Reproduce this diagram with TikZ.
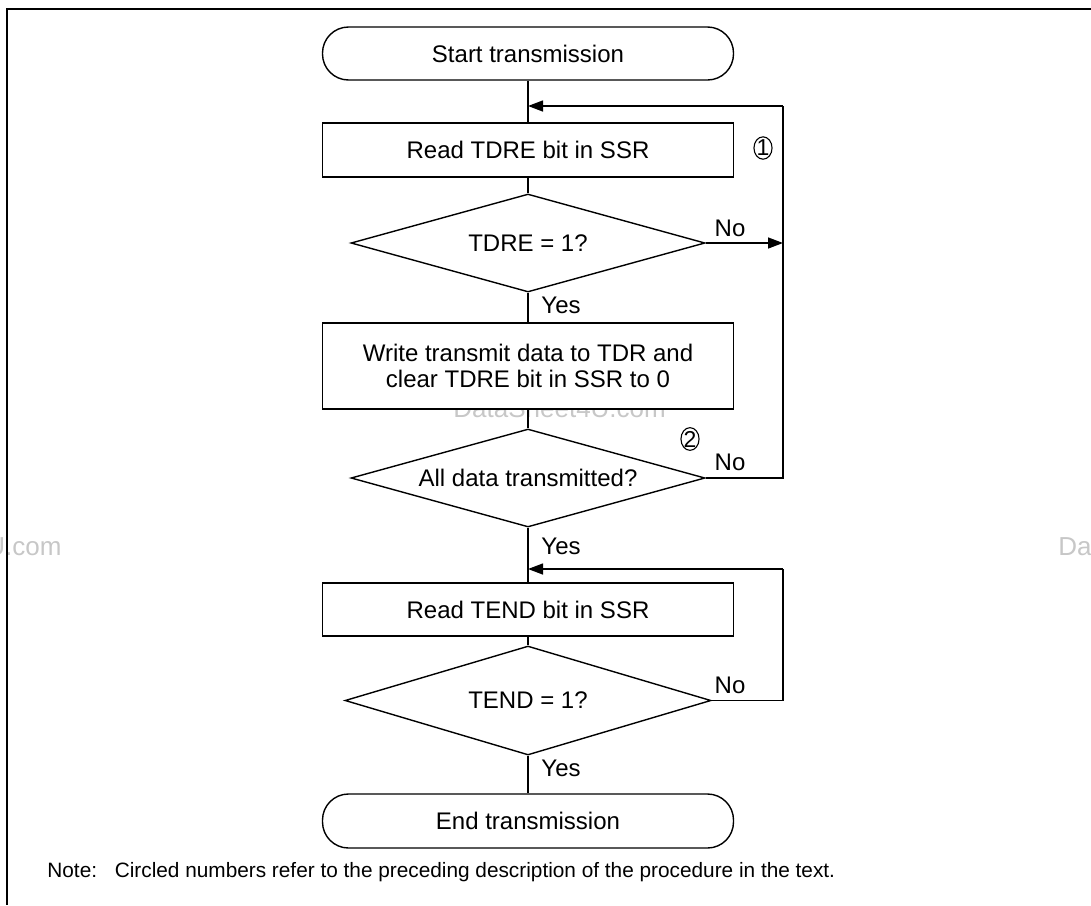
\documentclass[tikz,border=0pt]{standalone}
\usepackage{fontspec}
\setmainfont{Liberation Sans}
\usetikzlibrary{shapes.geometric,arrows.meta}
\begin{document}
\begin{tikzpicture}[x=0.5pt,y=-0.5pt,
  every node/.style={font=\fontsize{12}{13}\selectfont},
  term/.style={draw,line width=0.7pt,rounded corners=13pt,minimum width=205.5pt,minimum height=26.5pt,inner sep=0pt,fill=white},
  proc/.style={draw,line width=0.7pt,minimum width=205.5pt,minimum height=27pt,inner sep=0pt,fill=white,align=center},
  dec/.style={draw,line width=0.7pt,diamond,aspect=3.6,inner sep=0pt,minimum width=177pt,minimum height=49pt,fill=white},
  conn/.style={line width=0.7pt},
  arr/.style={conn,-{Triangle[length=7.5pt,width=5.5pt]}},
  lbl/.style={inner sep=0pt},
  num/.style={draw,ellipse,inner sep=0pt,minimum width=9pt,minimum height=10.5pt,line width=0.55pt,font=\fontsize{11.5}{12}\selectfont},
  wm/.style={text=black!22,font=\fontsize{13}{14}\selectfont,inner sep=0pt}
]
\useasboundingbox (0,0) rectangle (1091,905);
\clip (0,0) rectangle (1091,905);

% watermarks
\node[wm,anchor=base west] (wm1) at (453,417) {DataSheet4U.com};
\node[wm,anchor=base east] (wm2) at (62,555) {www.DataSheet4U.com};
\node[wm,anchor=base west] (wm3) at (1058,555) {DataSheet4U.com};

% frame
\draw[conn] (1091,9) -- (7,9) -- (7,905);

% nodes
\node[term] (start) at (528,53.5) {Start transmission};
\node[proc] (rd1) at (528,150) {Read TDRE bit in SSR};
\node[dec] (d1) at (528,243) {TDRE = 1?};
\node[proc,minimum height=43pt] (wr) at (528,366) {Write transmit data to TDR and\\clear TDRE bit in SSR to 0};
\node[dec] (d2) at (528,478) {All data transmitted?};
\node[proc,minimum height=26.5pt] (rd2) at (528,609.5) {Read TEND bit in SSR};
\node[dec,minimum width=183pt,minimum height=54.5pt] (d3) at (528,700.5) {TEND = 1?};
\node[term,minimum height=27pt] (stop) at (528,821) {End transmission};

\coordinate (rx) at (783,0);
\coordinate (j1) at (528,106);
\coordinate (j2) at (528,569);

% connectors
\draw[conn] (start) -- (rd1);
\draw[arr] (rx |- j1) -- (j1);
\draw[conn] (rd1) -- (d1);
\draw[arr] (d1.east) -- (d1.east -| rx);
\draw[conn] (d1) -- (wr);
\draw[conn] (wr) -- (d2);
\draw[conn] (d2.east) -- (d2.east -| rx) -- (rx |- j1);
\draw[conn] (d2) -- (rd2);
\draw[arr] (rx |- j2) -- (j2);
\draw[conn] (rd2) -- (d3);
\draw[conn] (d3.east) -- (d3.east -| rx) -- (rx |- j2);
\draw[conn] (d3) -- (stop);

% labels
\node[lbl] (no1) at (730,228) {No};
\node[lbl] (yes1) at (561,305) {Yes};
\node[lbl] (no2) at (730,462) {No};
\node[lbl] (yes2) at (561,546) {Yes};
\node[lbl] (no3) at (730,685) {No};
\node[lbl] (yes3) at (561,768) {Yes};

\node[num] (c1) at (763,148) {1};
\node[num] (c2) at (690,439) {2};

\node[anchor=base west,inner sep=0pt,font=\fontsize{10.4}{12}\selectfont] (note) at (47,877) {Note:\hspace{5pt} Circled numbers refer to the preceding description of the procedure in the text.};
\end{tikzpicture}
\end{document}
